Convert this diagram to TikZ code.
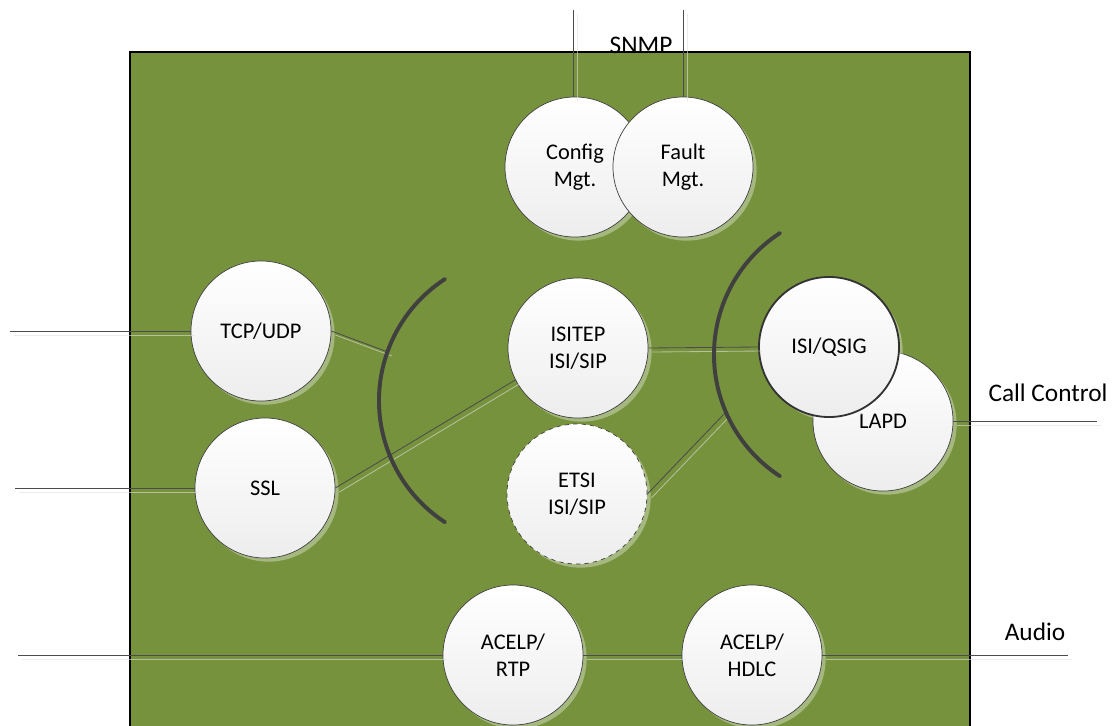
\documentclass[tikz,border=0pt]{standalone}
\usepackage{fontspec}
\setmainfont{Carlito}
\usetikzlibrary{shadows}

\definecolor{olivebg}{HTML}{76923C}
\definecolor{arcgray}{HTML}{404040}

\begin{document}
\begin{tikzpicture}[
  x=0.025cm, y=-0.025cm,
  blob/.style={circle, draw=black!75, line width=0.5pt, minimum size=3.5cm, inner sep=0pt,
    top color=white, bottom color=black!7, align=center,
    font=\fontsize{15.9}{19}\selectfont,
    drop shadow={shadow xshift=0.09cm, shadow yshift=-0.09cm, fill=white, opacity=0.35}},
  blobdash/.style={blob, dashed},
  blobbold/.style={blob, draw=black!80, line width=1.3pt},
  link/.style={draw=black!70, line width=0.6pt,
    postaction={draw=black!12, draw opacity=0.6, transform canvas={shift={(0.1cm,-0.1cm)}}}},
  bracket/.style={draw=arcgray, line width=2.8pt, line cap=round},
  lbl/.style={font=\fontsize{18}{21}\selectfont, inner sep=0pt}
]
  \useasboundingbox (0,0) rectangle (1115,725);

  % Board
  \draw[fill=olivebg, draw=black, line width=1pt] (130,52) rectangle (970,740);

  % Outer labels
  \node[lbl] (snmp) at (641,45) {SNMP};
  \node[lbl] (callctl) at (1048,393) {Call Control};
  \node[lbl] (audio) at (1035,632) {Audio};

  % Free ends
  \coordinate (snmpA) at (573,10);
  \coordinate (snmpB) at (683,10);
  \coordinate (tcpin) at (10,331);
  \coordinate (sslin) at (15,488);
  \coordinate (tcpend) at (388,352);
  \coordinate (etsiend) at (725,413);
  \coordinate (lapdout) at (1097,421);
  \coordinate (audioin) at (18,655);
  \coordinate (audioout) at (1068,655);

  % Management
  \node[blob] (config) at (575,167) {Config\\Mgt.};
  \node[blob] (fault) at (683,167) {Fault\\Mgt.};

  % Transport
  \node[blob] (tcp) at (261,331) {TCP/UDP};
  \node[blob] (ssl) at (265,488) {SSL};

  % Signalling
  \node[blob] (isitep) at (578,348) {ISITEP\\ISI/SIP};
  \node[blobdash] (etsi) at (577,494) {ETSI\\ISI/SIP};
  \node[blob] (lapd) at (883,421) {LAPD};
  \node[blobbold] (qsig) at (829,347) {ISI/QSIG};

  % Audio
  \node[blob] (rtp) at (513,655) {ACELP/\\RTP};
  \node[blob] (hdlc) at (752,655) {ACELP/\\HDLC};

  % Connectors
  \draw[link] (snmpA) -- (config.north -| snmpA);
  \draw[link] (snmpB) -- (fault.north);
  \draw[link] (tcpin) -- (tcp.west);
  \draw[link] (sslin) -- (ssl.west);
  \draw[link] (tcp.east) -- (tcpend);
  \draw[link] (ssl.east) -- (isitep.207);
  \draw[link] (isitep.east) -- (qsig.west);
  \draw[link] (etsi.east) -- (etsiend);
  \draw[link] (lapd.east) -- (lapdout);
  \draw[link] (audioin) -- (rtp.west);
  \draw[link] (rtp.east) -- (hdlc.west);
  \draw[link] (hdlc.east) -- (audioout);

  % Brackets
  \draw[bracket] (445,279) arc[start angle=237, end angle=123, radius=145];
  \draw[bracket] (780,233) arc[start angle=237, end angle=123, radius=145];

\end{tikzpicture}
\end{document}
